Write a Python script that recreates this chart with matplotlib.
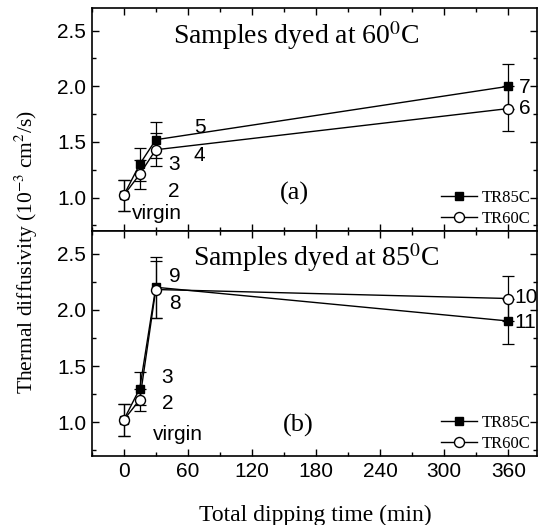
import numpy as np
import matplotlib.pyplot as plt
from matplotlib.ticker import MultipleLocator
from matplotlib.lines import Line2D

plt.rcParams['mathtext.fontset'] = 'stix'

# dipping time (min)
t = [0, 15, 30, 360]

# panel (a): dyed at 60 C
a_tr85 = [1.02, 1.30, 1.52, 2.00]
a_tr85_err = [0.14, 0.15, 0.16, 0.20]
a_tr60 = [1.02, 1.21, 1.43, 1.80]
a_tr60_err = [0.14, 0.13, 0.15, 0.20]

# panel (b): dyed at 85 C
b_tr85 = [1.02, 1.30, 2.20, 1.90]
b_tr85_err = [0.14, 0.15, 0.27, 0.20]
b_tr60 = [1.02, 1.20, 2.18, 2.10]
b_tr60_err = [0.14, 0.10, 0.25, 0.20]

labels_a = [("5", 71, 1.63), ("4", 71, 1.38), ("3", 47, 1.30), ("2", 47, 1.055),
            ("virgin", 8, 0.86), ("7", 375, 1.99), ("6", 375, 1.80)]
labels_b = [("9", 48, 2.30), ("8", 48, 2.06), ("3", 41, 1.40), ("2", 41, 1.17),
            ("virgin", 27, 0.89), ("10", 366, 2.11), ("11", 366, 1.89)]

serif = 'Liberation Serif'
sans = 'Liberation Sans'

fig = plt.figure(figsize=(5.38, 5.25), dpi=100)
ax1 = fig.add_axes([0.1704, 0.56, 0.828, 0.424])
ax2 = fig.add_axes([0.1704, 0.1314, 0.828, 0.4286])


def draw(ax, y85, e85, y60, e60, title, title_x, tag, labels):
    ax.errorbar(t, y85, yerr=e85, color='black', marker='s', ms=6, mfc='black',
                lw=1.0, capsize=4, elinewidth=0.9, capthick=0.9, zorder=3)
    ax.errorbar(t, y60, yerr=e60, color='black', marker='o', ms=7.2, mfc='white',
                lw=1.0, capsize=4, elinewidth=0.9, capthick=0.9, zorder=4)
    ax.set_xlim(-30, 387)
    ax.set_ylim(0.7, 2.7)
    ax.xaxis.set_major_locator(MultipleLocator(60))
    ax.xaxis.set_minor_locator(MultipleLocator(30))
    ax.yaxis.set_major_locator(MultipleLocator(0.5))
    ax.yaxis.set_minor_locator(MultipleLocator(0.25))
    ax.tick_params(which='both', direction='in', top=True, right=True, width=1.0)
    ax.tick_params(which='major', length=5, labelsize=15, pad=4)
    ax.tick_params(which='minor', length=3)
    for lab in ax.get_xticklabels() + ax.get_yticklabels():
        lab.set_fontfamily(sans)
    for s in ax.spines.values():
        s.set_linewidth(1.2)
    ax.text(title_x, 0.88, title, transform=ax.transAxes, ha='center', va='center',
            fontsize=20, family=serif)
    for txt, x, y in labels:
        ax.text(x, y, txt, fontsize=15, family=sans,
                ha='left' if txt in ('virgin', '10', '11') else 'center', va='center')
    ax.text(tag[1], tag[2], tag[0], fontsize=19, family=serif, ha='center', va='center')
    handles = [Line2D([], [], color='black', lw=1.0, marker='s', ms=6, mfc='black'),
               Line2D([], [], color='black', lw=1.0, marker='o', ms=7.2, mfc='white')]
    ax.legend(handles, ['TR85C', 'TR60C'], loc='lower right', frameon=False,
              prop={'family': serif, 'size': 12}, bbox_to_anchor=(0.985, 0.02),
              handlelength=2.2, handletextpad=0.25, labelspacing=0.3,
              borderaxespad=0.0, borderpad=0.0)


draw(ax1, a_tr85, a_tr85_err, a_tr60, a_tr60_err,
     'Samples dyed at 60$^0$C', 0.459, ('(a)', 160, 1.04), labels_a)
draw(ax2, b_tr85, b_tr85_err, b_tr60, b_tr60_err,
     'Samples dyed at 85$^0$C', 0.504, ('(b)', 163, 0.97), labels_b)
ax1.tick_params(labelbottom=False)

fig.text(0.05, 0.52, 'Thermal diffusivity (10$^{-3}$ cm$^2$/s)', rotation=90,
         ha='center', va='center', fontsize=15.5, family=serif)
fig.text(0.587, 0.019, 'Total dipping time (min)', ha='center', va='center',
         fontsize=17, family=serif)

plt.savefig('out.png', dpi=100)
